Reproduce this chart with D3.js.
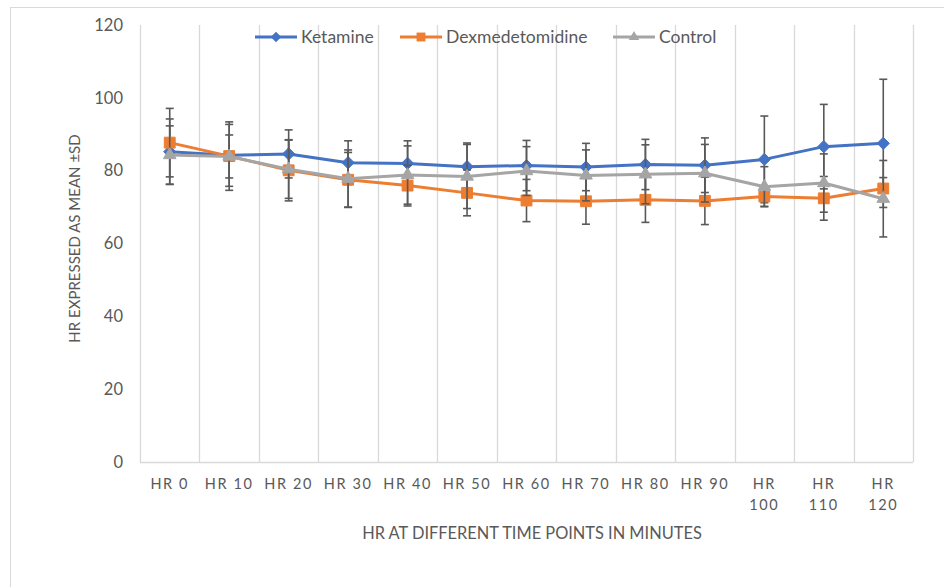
<!DOCTYPE html>
<html>
<head>
<meta charset="utf-8">
<script src="https://cdn.jsdelivr.net/npm/d3@7"></script>
<style>
  body { margin: 0; background: #fff; }
  text { font-family: Lato, "Open Sans", sans-serif; fill: #595959; }
</style>
</head>
<body>
<div id="chart"></div>
<script>
// time points (x categories)
const categories = ['HR 0', 'HR 10', 'HR 20', 'HR 30', 'HR 40', 'HR 50', 'HR 60',
  'HR 70', 'HR 80', 'HR 90', 'HR 100', 'HR 110', 'HR 120'];

const ketamineMean = [85.2, 84.2, 84.6, 82.2, 82.0, 81.1, 81.4, 81.0, 81.7, 81.5, 83.1, 86.6, 87.5];
const ketamineSD   = [9.0, 8.5, 6.6, 6.0, 6.2, 6.5, 6.9, 6.5, 6.9, 7.5, 11.9, 11.6, 17.6];

const dexMean = [87.7, 84.0, 80.1, 77.5, 75.9, 73.9, 71.8, 71.6, 72.0, 71.7, 72.9, 72.4, 75.1];
const dexSD   = [9.4, 9.4, 8.4, 7.5, 5.6, 6.3, 5.8, 6.3, 6.2, 6.5, 2.7, 6.0, 3.0];

const controlMean = [84.3, 83.9, 80.4, 77.8, 78.8, 78.4, 79.9, 78.7, 79.0, 79.3, 75.6, 76.6, 72.3];
const controlSD   = [8.0, 5.9, 8.0, 7.9, 8.0, 8.8, 6.7, 7.0, 8.1, 7.9, 5.5, 8.0, 10.5];

const yTicks = [0, 20, 40, 60, 80, 100, 120];

const series = [
  { name: 'Ketamine', mean: ketamineMean, sd: ketamineSD, color: '#4472C4', symbol: d3.symbolDiamond2, size: 95, lsize: 70 },
  { name: 'Dexmedetomidine', mean: dexMean, sd: dexSD, color: '#ED7D31', symbol: d3.symbolSquare2, size: 150, lsize: 100 },
  { name: 'Control', mean: controlMean, sd: controlSD, color: '#A5A5A5', symbol: d3.symbolTriangle2, size: 115, lsize: 80 }
];

const width = 944, height = 587;
const margin = { left: 140, right: 31, top: 25, bottom: 125 };

const svg = d3.select('#chart').append('svg')
  .attr('width', width)
  .attr('height', height);

// outer chart frame
svg.append('rect')
  .attr('x', 10.5).attr('y', 7.5)
  .attr('width', width + 20).attr('height', height + 20)
  .attr('fill', 'none').attr('stroke', '#d9d9d9');

const x = d3.scaleBand()
  .domain(categories)
  .range([margin.left, width - margin.right])
  .padding(0);

const y = d3.scaleLinear()
  .domain([0, 120])
  .range([height - margin.bottom, margin.top]);

// vertical gridlines at category borders
const borders = categories.map(c => x(c)).concat([x.range()[1]]);
svg.append('g').selectAll('line')
  .data(borders)
  .enter().append('line')
  .attr('x1', d => Math.round(d) + 0.5).attr('x2', d => Math.round(d) + 0.5)
  .attr('y1', y(120)).attr('y2', y(0))
  .attr('stroke', '#d9d9d9').attr('stroke-width', 1.3);

// x axis line
svg.append('line')
  .attr('x1', x.range()[0]).attr('x2', x.range()[1])
  .attr('y1', y(0) + 0.5).attr('y2', y(0) + 0.5)
  .attr('stroke', '#d9d9d9').attr('stroke-width', 1.3);

// y axis
const yAxis = svg.append('g')
  .attr('transform', `translate(${margin.left}, 0)`)
  .call(d3.axisLeft(y).tickValues(yTicks).tickSize(0).tickPadding(17));
yAxis.select('.domain').remove();
yAxis.selectAll('text')
  .style('font-size', '16.5px')
  .style('font-family', 'Lato, sans-serif')
  .attr('fill', '#595959');

// x axis (labels wrap on narrow bands)
const xAxis = svg.append('g')
  .attr('transform', `translate(0, ${y(0)})`)
  .call(d3.axisBottom(x).tickSize(0).tickPadding(17));
xAxis.select('.domain').remove();
xAxis.selectAll('text')
  .style('font-size', '14.5px')
  .style('letter-spacing', '1.6px')
  .attr('fill', '#595959')
  .each(function(d) {
    const parts = d.split(' ');
    if (parts[1].length > 2) {
      const t = d3.select(this).text(null);
      t.append('tspan').attr('x', 0).text(parts[0]);
      t.append('tspan').attr('x', 0).attr('dy', '1.4em').text(parts[1]);
    }
  });

// error bars, lines and markers per series
const line = d3.line()
  .x((d, i) => x(categories[i]) + x.bandwidth() / 2)
  .y(d => y(d));

series.forEach(s => {
  const g = svg.append('g');
  const pts = s.mean.map((m, i) => ({ m, sd: s.sd[i], cx: x(categories[i]) + x.bandwidth() / 2 }));

  g.append('path')
    .datum(s.mean)
    .attr('d', line)
    .attr('fill', 'none')
    .attr('stroke', s.color)
    .attr('stroke-width', 3)
    .attr('stroke-linejoin', 'round');

  const eb = g.selectAll('.eb').data(pts).enter().append('g')
    .attr('stroke', '#595959').attr('stroke-width', 1.6);
  eb.append('line')
    .attr('x1', d => d.cx).attr('x2', d => d.cx)
    .attr('y1', d => y(d.m + d.sd)).attr('y2', d => y(d.m - d.sd));
  eb.append('line')
    .attr('x1', d => d.cx - 4).attr('x2', d => d.cx + 4)
    .attr('y1', d => y(d.m + d.sd)).attr('y2', d => y(d.m + d.sd));
  eb.append('line')
    .attr('x1', d => d.cx - 4).attr('x2', d => d.cx + 4)
    .attr('y1', d => y(d.m - d.sd)).attr('y2', d => y(d.m - d.sd));

  g.selectAll('.mk').data(pts).enter().append('path')
    .attr('d', d3.symbol().type(s.symbol).size(s.size))
    .attr('transform', d => `translate(${d.cx}, ${y(d.m)})`)
    .attr('fill', s.color)
    .attr('stroke', s.color);
});

// legend
const legendX = [255, 400, 613];
const legend = svg.append('g');
series.forEach((s, i) => {
  const lg = legend.append('g').attr('transform', `translate(${legendX[i]}, 37)`);
  lg.append('line')
    .attr('x1', 0).attr('x2', 42)
    .attr('stroke', s.color).attr('stroke-width', 3);
  lg.append('path')
    .attr('d', d3.symbol().type(s.symbol).size(s.lsize))
    .attr('transform', 'translate(21, 0)')
    .attr('fill', s.color);
  lg.append('text')
    .attr('x', 46).attr('y', 0)
    .attr('dy', '0.35em')
    .style('font-size', '17.5px')
    .text(s.name);
});

// axis titles
svg.append('text')
  .attr('transform', `translate(80, ${(y(0) + y(120)) / 2 - 5}) rotate(-90)`)
  .attr('text-anchor', 'middle')
  .style('font-size', '15px')
  .text('HR EXPRESSED AS MEAN ±SD');

svg.append('text')
  .attr('x', 532).attr('y', 539)
  .attr('text-anchor', 'middle')
  .style('font-size', '16.4px')
  .text('HR AT DIFFERENT TIME POINTS IN MINUTES');
</script>
</body>
</html>
